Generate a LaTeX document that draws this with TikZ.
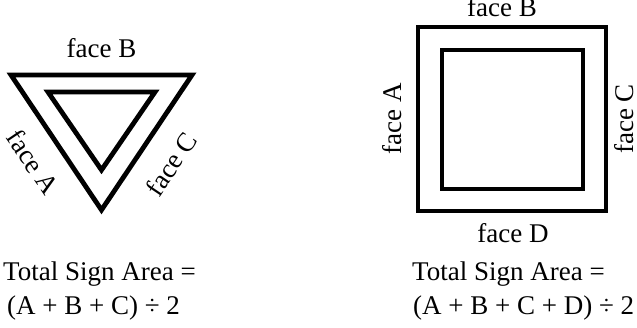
\documentclass[tikz,border=0pt]{standalone}
\usepackage{fontspec}
\setmainfont{Liberation Serif}
\begin{document}
\begin{tikzpicture}[x=1pt,y=-1pt,
  lab/.style={inner sep=0pt, font=\fontsize{27}{30}\selectfont},
  frame/.style={draw=black, line width=4.8pt, line join=miter}]
\useasboundingbox (0,0) rectangle (637,327);
% triangle sign
\draw[frame] (11,75) -- (192,75) -- (101.5,210) -- cycle;
\draw[frame] (48,92) -- (155,92) -- (101.5,170) -- cycle;
\node[lab, anchor=base] (fbL) at (101.5,57) {face B};
\node[lab, rotate=-56] (faL) at (33,162) {face A};
\node[lab, rotate=56] (fcL) at (171,164) {face C};
\node[lab, anchor=base west] (t1L) at (3,280) {Total Sign Area =};
\node[lab, anchor=base west] (t2L) at (7,314) {(A + B + C) ÷ 2};
% square sign
\draw[frame] (418,27) rectangle (606,211);
\draw[frame] (442,50) rectangle (583,189);
\node[lab, anchor=base] (fbR) at (502,16) {face B};
\node[lab, rotate=90] (faR) at (392,119) {face A};
\node[lab, rotate=90] (fcR) at (624,119) {face C};
\node[lab, anchor=base] (fdR) at (513,242) {face D};
\node[lab, anchor=base west] (t1R) at (412,280) {Total Sign Area =};
\node[lab, anchor=base west] (t2R) at (413,314) {(A + B + C + D) ÷ 2};
\end{tikzpicture}
\end{document}
